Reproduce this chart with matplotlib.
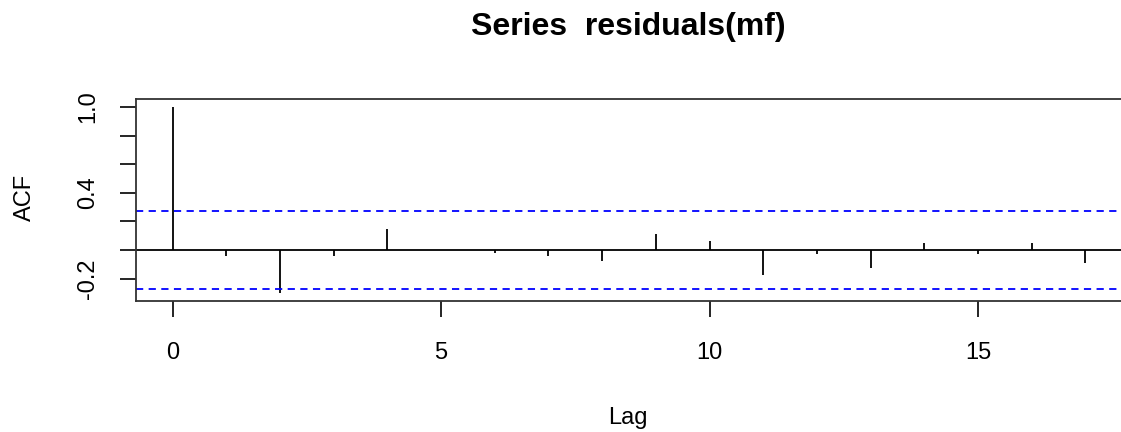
import matplotlib
matplotlib.use('Agg')
import matplotlib.pyplot as plt

plt.rcParams['font.family'] = ['Liberation Sans', 'DejaVu Sans']

# ACF of residuals(mf), lags 0..17
lags = list(range(18))
acf_vals = [1.0, -0.04, -0.30, -0.042, 0.145, 0.0, -0.019, -0.042, -0.077,
            0.11, 0.061, -0.175, -0.028, -0.128, 0.051, -0.028, 0.051, -0.089]
clim = 0.274  # 1.96/sqrt(n)

y_ticks = [-0.2, 0.0, 0.2, 0.4, 0.6, 0.8, 1.0]
y_labels = ['-0.2', '', '', '0.4', '', '', '1.0']
x_ticks = [0, 5, 10, 15]

W, H = 1121, 432
fig = plt.figure(figsize=(W / 100, H / 100), dpi=100)
# plot region in pixels: left 136, right ~1122, top 99, bottom 301
ax = fig.add_axes([136 / W, (H - 301) / H, 986 / W, 202 / H])

ax.vlines(lags, 0, acf_vals, color='black', linewidth=1.3)
ax.axhline(0, color='black', linewidth=1.3)
ax.axhline(clim, color='#0000ff', linestyle=(0, (4, 3)), linewidth=1.3)
ax.axhline(-clim, color='#0000ff', linestyle=(0, (4, 3)), linewidth=1.3)

ax.set_xlim(-0.68, 17.68)
ax.set_ylim(-0.357, 1.056)

ax.set_yticks(y_ticks)
ax.set_yticklabels(y_labels, rotation=90, va='center', fontsize=17)
ax.set_xticks(x_ticks)
ax.set_xticklabels([str(t) for t in x_ticks], fontsize=17)
ax.tick_params(axis='both', length=11.5, width=1.2, color='black')
ax.tick_params(axis='y', pad=15)
ax.tick_params(axis='x', pad=18)

for s in ax.spines.values():
    s.set_linewidth(1.3)
    s.set_color('#333333')

fig.text(628 / W, 1 - 35 / H, 'Series  residuals(mf)', ha='center', va='baseline',
         fontsize=23, fontweight='bold')
fig.text(25 / W, 1 - 197 / H, 'ACF', rotation=90, ha='center', va='center', fontsize=17)
fig.text(628 / W, 1 - 418 / H, 'Lag', ha='center', va='center', fontsize=17)

plt.savefig('out.png', dpi=100)
